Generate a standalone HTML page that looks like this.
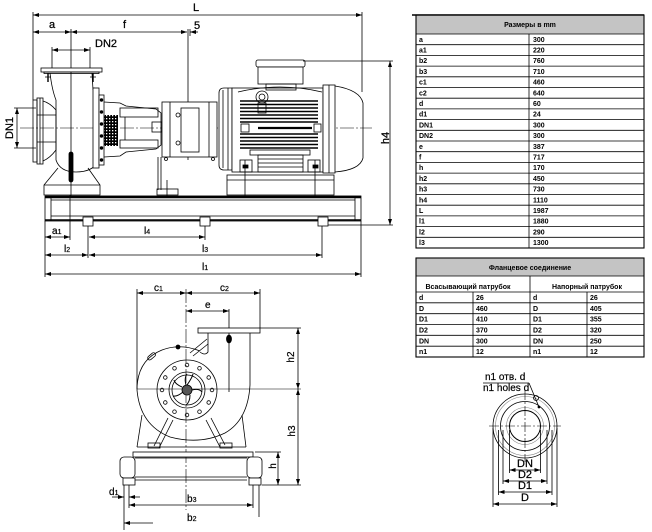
<!DOCTYPE html>
<html><head><meta charset="utf-8"><style>
html,body{margin:0;padding:0;background:#fff;}
svg{display:block;}
text{font-family:"Liberation Sans",Arial,sans-serif;fill:#000;}
.t{font-size:7px;font-weight:bold;}
.l{font-size:11px;stroke:#000;stroke-width:0.25;}
.s{font-size:10px;stroke:#000;stroke-width:0.2;}
</style></head><body>
<svg width="652" height="532" viewBox="0 0 652 532" xmlns="http://www.w3.org/2000/svg">
<defs>
<marker id="ar" viewBox="0 0 6 4" refX="6" refY="2" markerWidth="6" markerHeight="4" orient="auto-start-reverse" markerUnits="userSpaceOnUse"><path d="M0,0L6,2L0,4z" fill="#000" stroke="none"/></marker>
<pattern id="hat" width="3" height="3" patternUnits="userSpaceOnUse"><rect width="3" height="3" fill="#000"/><rect x="1" y="1" width="1.3" height="1.3" fill="#fff"/></pattern>
</defs>
<rect width="652" height="532" fill="#fff"/>

<!-- ============ TOP SIDE VIEW ============ -->
<g fill="none" stroke="#000" stroke-width="0.8">
 <line x1="33" y1="15" x2="362" y2="15" marker-start="url(#ar)" marker-end="url(#ar)"/>
 <line x1="33" y1="12" x2="33" y2="100"/>
 <line x1="362" y1="12" x2="362" y2="92"/>
 <line x1="33" y1="32" x2="71" y2="32" marker-start="url(#ar)" marker-end="url(#ar)"/>
 <line x1="71" y1="32" x2="187" y2="32" marker-start="url(#ar)" marker-end="url(#ar)"/>
 <line x1="198" y1="32" x2="190" y2="32" marker-end="url(#ar)"/>
 <line x1="71" y1="29" x2="71" y2="200"/>
 <line x1="188" y1="29" x2="188" y2="160"/>
 <line x1="190" y1="29" x2="190" y2="36"/>
 <line x1="52" y1="50" x2="90" y2="50" marker-start="url(#ar)" marker-end="url(#ar)"/>
 <line x1="52" y1="47" x2="52" y2="70"/>
 <line x1="90" y1="47" x2="90" y2="70"/>
 <line x1="17" y1="108" x2="17" y2="148" marker-start="url(#ar)" marker-end="url(#ar)"/>
 <line x1="14" y1="108" x2="36" y2="108"/>
 <line x1="14" y1="148" x2="36" y2="148"/>
 <line x1="20" y1="128" x2="372" y2="128" stroke-dasharray="14 2 2 2" stroke-width="0.6"/>

 <rect x="41" y="68" width="61" height="4" fill="#fff"/>
 <rect x="44" y="72" width="55" height="1.5"/>
 <line x1="48" y1="73" x2="48" y2="82" stroke-width="1.4"/>
 <line x1="93" y1="73" x2="93" y2="82" stroke-width="1.4"/>
 <path d="M45,77h6M90,77h6"/>
 <path d="M50,73 Q52,90 56,100"/>
 <path d="M92,73 L93,90"/>
 <rect x="33" y="100" width="4" height="62"/>
 <rect x="37" y="98" width="6" height="66"/>
 <path d="M43,101 Q50,103 56,110 L56,150 Q50,158 43,161"/>
 <path d="M37,115H56M37,142H56M40,98V164"/>
 <path d="M56,100 L56,160 Q60,172 76,172 Q92,172 98,162 L98,90 Q96,88 93,88"/>
 <rect x="69" y="152" width="4" height="30" rx="2" fill="#000"/>
 <path d="M58,168 L44,185 L44,195 L100,195 L100,185 L88,168"/>
 <line x1="44" y1="185" x2="100" y2="185"/>
 <rect x="93" y="88" width="6" height="80" fill="#fff"/>
 <rect x="99" y="95" width="5" height="70" fill="#fff"/>
 <g fill="#000"><circle cx="101.5" cy="100" r="1.3"/><circle cx="101.5" cy="112" r="1.3"/><circle cx="101.5" cy="124" r="1.3"/><circle cx="101.5" cy="136" r="1.3"/><circle cx="101.5" cy="148" r="1.3"/><circle cx="101.5" cy="160" r="1.3"/></g>
 <path d="M104,102 L120,103 L126,106 L156,109 L161,113 L161,145 L156,149 L126,152 L120,156 L104,157"/>
 <rect x="104" y="115" width="14" height="31" fill="url(#hat)" stroke="none"/>
 <rect x="120" y="108" width="38" height="9"/>
 <rect x="120" y="140" width="38" height="8"/>
 <rect x="152" y="122" width="10" height="10"/>
 <path d="M125,117 L125,140"/>
 <rect x="162" y="102" width="55" height="55" fill="#fff"/>
 <rect x="181" y="108" width="18" height="44"/>
 <path d="M170,102V157M209,102V157"/>
 <circle cx="178" cy="115" r="2"/><circle cx="178" cy="143" r="2"/>
 <circle cx="166" cy="159" r="1.5"/><circle cx="213" cy="159" r="1.5"/>
 <path d="M158,157 L158,190 M161,157 L161,190"/>
 <rect x="157" y="189" width="21" height="6"/>
 <line x1="167" y1="180" x2="167" y2="205"/>
 <path d="M219,93 Q219,88 224,88 L232,88 L232,170 L224,170 Q219,170 219,165 Z" fill="#fff"/>
 <line x1="223" y1="90" x2="223" y2="168"/>
 <line x1="228" y1="88" x2="228" y2="170"/>
 <rect x="232" y="88" width="91" height="84" fill="#fff"/>
 <path d="M238,92 Q280,82 322,92"/>
 <rect x="256" y="60" width="49" height="7" rx="2" fill="#fff"/>
 <rect x="258" y="67" width="45" height="17" fill="#fff"/>
 <rect x="266" y="84" width="30" height="6"/>
 <circle cx="262" cy="97" r="6" fill="#fff"/><circle cx="262" cy="97" r="3"/>
 <rect x="258" y="103" width="8" height="10" fill="#fff"/>
 <g stroke-width="1.6">
  <path d="M240,101H318M240,104.5H318M240,108H318M240,111.5H318M240,115H318M240,118.5H318M240,122H318"/>
  <path d="M240,134H318M240,137.5H318M240,141H318M240,144.5H318M240,148H318"/>
  <path d="M258,128H312" stroke-width="2.2"/>
 </g>
 <rect x="241" y="124" width="8" height="8" fill="#fff"/>
 <rect x="314" y="124" width="7" height="8" fill="#fff"/>
 <rect x="250" y="150" width="60" height="5" fill="#fff"/>
 <rect x="258" y="155" width="45" height="17"/>
 <path d="M258,159H303M258,163H303M258,167H303"/>
 <rect x="240" y="160" width="12" height="12"/>
 <rect x="308" y="160" width="12" height="12"/>
 <rect x="243" y="165" width="5" height="3" fill="#000"/>
 <rect x="313" y="165" width="5" height="3" fill="#000"/>
 <rect x="323" y="85" width="12" height="88" fill="#fff"/>
 <path d="M335,86 Q360,90 363,103 L363,158 Q360,170 335,172"/>
 <path d="M329,85V173"/>
 <rect x="227" y="175" width="107" height="20" fill="#fff"/>
 <line x1="227" y1="180" x2="334" y2="180"/>
 <line x1="245" y1="160" x2="245" y2="205"/>
 <line x1="315" y1="160" x2="315" y2="205"/>
 <line x1="390" y1="61" x2="390" y2="225" marker-start="url(#ar)" marker-end="url(#ar)"/>
 <line x1="303" y1="61" x2="393" y2="61"/>
 <line x1="328" y1="225" x2="393" y2="225"/>
 <rect x="45" y="196" width="316" height="25" fill="#fff"/>
 <line x1="45" y1="197" x2="361" y2="197" stroke-width="2.4"/>
 <line x1="45" y1="220" x2="361" y2="220" stroke-width="1.6"/>
 <path d="M51,200H355M51,216H355M51,196V221M355,196V221"/>
 <rect x="83" y="217" width="10" height="9" fill="#fff"/>
 <rect x="200" y="217" width="10" height="9" fill="#fff"/>
 <rect x="318" y="217" width="10" height="9" fill="#fff"/>
 <line x1="45" y1="237" x2="70" y2="237" marker-start="url(#ar)" marker-end="url(#ar)"/>
 <line x1="89" y1="237" x2="205" y2="237" marker-start="url(#ar)" marker-end="url(#ar)"/>
 <line x1="45" y1="255" x2="88" y2="255" marker-start="url(#ar)" marker-end="url(#ar)"/>
 <line x1="89" y1="255" x2="322" y2="255" marker-start="url(#ar)" marker-end="url(#ar)"/>
 <line x1="45" y1="274" x2="361" y2="274" marker-start="url(#ar)" marker-end="url(#ar)"/>
 <path d="M45,221V277M361,221V277M88,226V258M205,226V240M322,226V258M70,195V240"/>
</g>
<g>
 <text class="l" x="193" y="11">L</text>
 <text class="l" x="49" y="28">a</text>
 <text class="l" x="123" y="28">f</text>
 <text class="l" x="194" y="29">5</text>
 <text class="l" x="95" y="47">DN2</text>
 <text class="l" transform="translate(13,128) rotate(-90)" text-anchor="middle">DN1</text>
 <text class="l" transform="translate(389,138) rotate(-90)" text-anchor="middle">h4</text>
 <text class="s" x="52" y="234">a<tspan font-size="7">1</tspan></text>
 <text class="s" x="144" y="234">l<tspan font-size="7">4</tspan></text>
 <text class="s" x="64" y="252">l<tspan font-size="7">2</tspan></text>
 <text class="s" x="202" y="252">l<tspan font-size="7">3</tspan></text>
 <text class="s" x="202" y="270">l<tspan font-size="7">1</tspan></text>
</g>

<!-- ============ FRONT VIEW ============ -->
<g fill="none" stroke="#000" stroke-width="0.8">
 <line x1="186" y1="289" x2="186" y2="510" stroke-dasharray="14 2 2 2" stroke-width="0.6"/>
 <line x1="137" y1="389" x2="301" y2="389" stroke-width="0.6"/>
 <line x1="137" y1="293" x2="186" y2="293" marker-start="url(#ar)" marker-end="url(#ar)"/>
 <line x1="186" y1="293" x2="260" y2="293" marker-start="url(#ar)" marker-end="url(#ar)"/>
 <line x1="186" y1="311" x2="229" y2="311" marker-start="url(#ar)" marker-end="url(#ar)"/>
 <path d="M137,289V389M260,289V328M229,309V392"/>
 <rect x="198" y="328" width="62" height="5" fill="#fff"/>
 <path d="M208,333 L208,352 Q205,356 200,352"/>
 <path d="M190,353 L207,339 M193,356 L208,344"/>
 <path d="M250,333 L250,385 Q248,420 225,433 Q200,445 170,437 Q140,425 137,390 Q137,360 162,350 Q180,343 200,351"/>
 <ellipse cx="229" cy="339" rx="2.5" ry="4" fill="#000"/>
 <circle cx="178" cy="347" r="2" fill="#000"/>
 <rect x="150" y="352" width="4" height="9" rx="2" transform="rotate(50 152 356)"/>
 <circle cx="187" cy="390" r="30"/>
 <circle cx="187" cy="390" r="18"/>
 <circle cx="187" cy="390" r="15"/>
 <circle cx="187" cy="390" r="5" fill="#555"/>
 <g>
  <circle cx="212" cy="390" r="1.8"/><circle cx="208.7" cy="402.5" r="1.8"/><circle cx="199.5" cy="411.7" r="1.8"/><circle cx="187" cy="415" r="1.8"/><circle cx="174.5" cy="411.7" r="1.8"/><circle cx="165.3" cy="402.5" r="1.8"/><circle cx="162" cy="390" r="1.8"/><circle cx="165.3" cy="377.5" r="1.8"/><circle cx="174.5" cy="368.3" r="1.8"/><circle cx="187" cy="365" r="1.8"/><circle cx="199.5" cy="368.3" r="1.8"/><circle cx="208.7" cy="377.5" r="1.8"/>
 </g>
 <path d="M187,385 Q192,378 193,374 M192,390 Q199,388 202,392 M190,395 Q190,402 186,405 M183,392 Q177,397 173,396 M182,387 Q175,384 174,380 M186,385 Q184,378 187,374" stroke-width="1"/>
 <path d="M142,415 L137,447 M242,415 L246,447 M137,447 H246"/>
 <path d="M168,418 L154,446 M173,420 L159,448 M206,420 L220,447 M211,418 L225,445"/>
 <rect x="148" y="443" width="12" height="5"/>
 <rect x="220" y="443" width="12" height="5"/>
 <rect x="133" y="452" width="120" height="5" fill="#fff"/>
 <rect x="120" y="457" width="15" height="21" rx="4" fill="#fff"/>
 <rect x="247" y="457" width="15" height="21" rx="4" fill="#fff"/>
 <path d="M135,458H247M135,477H247M135,480H247"/>
 <rect x="123" y="478" width="12" height="7" fill="#fff"/>
 <rect x="249" y="478" width="12" height="7" fill="#fff"/>
 <line x1="298" y1="328" x2="298" y2="389" marker-start="url(#ar)" marker-end="url(#ar)"/>
 <line x1="298" y1="389" x2="298" y2="485" marker-start="url(#ar)" marker-end="url(#ar)"/>
 <line x1="278" y1="452" x2="278" y2="485" marker-start="url(#ar)" marker-end="url(#ar)"/>
 <path d="M260,328H301M255,452H281M262,485H301"/>
 <line x1="112" y1="497" x2="124" y2="497" marker-end="url(#ar)"/>
 <line x1="140" y1="497" x2="129" y2="497" marker-end="url(#ar)"/>
 <line x1="129" y1="505" x2="253" y2="505" marker-start="url(#ar)" marker-end="url(#ar)"/>
 <line x1="124" y1="523" x2="153" y2="523" marker-start="url(#ar)"/>
 <path d="M124,485V530M129,485V508M253,485V508M259,485V517"/>
</g>
<g>
 <text class="s" x="154" y="291">c<tspan font-size="7">1</tspan></text>
 <text class="s" x="220" y="291">c<tspan font-size="7">2</tspan></text>
 <text class="s" x="205" y="308">e</text>
 <text class="s" transform="translate(294,357) rotate(-90)" text-anchor="middle">h2</text>
 <text class="s" transform="translate(295,431) rotate(-90)" text-anchor="middle">h3</text>
 <text class="s" transform="translate(276,466) rotate(-90)" text-anchor="middle">h</text>
 <text class="s" x="109" y="495">d<tspan font-size="7">1</tspan></text>
 <text class="s" x="187" y="502">b<tspan font-size="7">3</tspan></text>
 <text class="s" x="187" y="521">b<tspan font-size="7">2</tspan></text>
</g>

<!-- ============ FLANGE ============ -->
<g fill="none" stroke="#000" stroke-width="0.8">
 <circle cx="525" cy="426" r="32"/>
 <circle cx="525" cy="426" r="29.5" stroke="#888" stroke-width="0.6"/>
 <circle cx="525" cy="426" r="24.5"/>
 <circle cx="525" cy="426" r="18.5" stroke="#888" stroke-width="0.6"/>
 <circle cx="525" cy="426" r="15.5" stroke-width="1"/>
 <line x1="489" y1="426" x2="561" y2="426" stroke-dasharray="10 2 2 2" stroke-width="0.6"/>
 <line x1="525" y1="390" x2="525" y2="462" stroke-dasharray="10 2 2 2" stroke-width="0.6"/>
 <circle cx="536" cy="398" r="2.5"/>
 <line x1="483" y1="383" x2="529" y2="383"/>
 <line x1="529" y1="383" x2="539" y2="407"/>
 <circle cx="539" cy="407" r="1" fill="#000"/>
 <path d="M509.5,430V473M540.5,430V473M503,430V484M547,430V484M498.5,430V495M552,430V495M493,428V507M557,428V507"/>
 <line x1="509.5" y1="470" x2="540.5" y2="470" marker-start="url(#ar)" marker-end="url(#ar)"/>
 <line x1="503" y1="481" x2="547" y2="481" marker-start="url(#ar)" marker-end="url(#ar)"/>
 <line x1="498.5" y1="492" x2="552" y2="492" marker-start="url(#ar)" marker-end="url(#ar)"/>
 <line x1="493" y1="504" x2="557" y2="504" marker-start="url(#ar)" marker-end="url(#ar)"/>
</g>
<g font-size="10">
 <text x="485" y="380" stroke="#000" stroke-width="0.2">n1 отв. d</text>
 <text x="483" y="391" stroke="#000" stroke-width="0.2">n1 holes d</text>
 <text class="l" x="525" y="467" text-anchor="middle">DN</text>
 <text class="l" x="525" y="478" text-anchor="middle">D2</text>
 <text class="l" x="525" y="489" text-anchor="middle">D1</text>
 <text class="l" x="525" y="501" text-anchor="middle">D</text>
</g>

<!-- ============ TABLE 1 ============ -->
<rect x="416" y="16" width="228" height="18" fill="#c4c4c4"/>
<g fill="none" stroke="#000" stroke-width="0.8">
 <rect x="416" y="15" width="228" height="233" stroke-width="1.1"/>
 <line x1="412" y1="15" x2="644" y2="15" stroke-width="1.6"/>
 <path d="M416,34H644M416,44.7H644M416,55.4H644M416,66.1H644M416,76.8H644M416,87.5H644M416,98.2H644M416,108.9H644M416,119.6H644M416,130.3H644M416,141H644M416,151.7H644M416,162.4H644M416,173.1H644M416,183.8H644M416,194.5H644M416,205.2H644M416,215.9H644M416,226.6H644M416,237.3H644"/>
 <line x1="529" y1="34" x2="529" y2="248"/>
</g>
<g class="t">
 <text class="t" x="530" y="27" text-anchor="middle">Размеры в mm</text>
 <text class="t" x="419" y="41.8">a</text><text class="t" x="533" y="41.8">300</text>
 <text class="t" x="419" y="52.5">a1</text><text class="t" x="533" y="52.5">220</text>
 <text class="t" x="419" y="63.2">b2</text><text class="t" x="533" y="63.2">760</text>
 <text class="t" x="419" y="73.9">b3</text><text class="t" x="533" y="73.9">710</text>
 <text class="t" x="419" y="84.6">c1</text><text class="t" x="533" y="84.6">460</text>
 <text class="t" x="419" y="95.3">c2</text><text class="t" x="533" y="95.3">640</text>
 <text class="t" x="419" y="106">d</text><text class="t" x="533" y="106">60</text>
 <text class="t" x="419" y="116.7">d1</text><text class="t" x="533" y="116.7">24</text>
 <text class="t" x="419" y="127.4">DN1</text><text class="t" x="533" y="127.4">300</text>
 <text class="t" x="419" y="138.1">DN2</text><text class="t" x="533" y="138.1">300</text>
 <text class="t" x="419" y="148.8">e</text><text class="t" x="533" y="148.8">387</text>
 <text class="t" x="419" y="159.5">f</text><text class="t" x="533" y="159.5">717</text>
 <text class="t" x="419" y="170.2">h</text><text class="t" x="533" y="170.2">170</text>
 <text class="t" x="419" y="180.9">h2</text><text class="t" x="533" y="180.9">450</text>
 <text class="t" x="419" y="191.6">h3</text><text class="t" x="533" y="191.6">730</text>
 <text class="t" x="419" y="202.3">h4</text><text class="t" x="533" y="202.3">1110</text>
 <text class="t" x="419" y="213">L</text><text class="t" x="533" y="213">1987</text>
 <text class="t" x="419" y="223.7">l1</text><text class="t" x="533" y="223.7">1880</text>
 <text class="t" x="419" y="234.4">l2</text><text class="t" x="533" y="234.4">290</text>
 <text class="t" x="419" y="245.1">l3</text><text class="t" x="533" y="245.1">1300</text>
</g>

<!-- ============ TABLE 2 ============ -->
<rect x="416" y="258" width="228" height="18" fill="#c4c4c4"/>
<g fill="none" stroke="#000" stroke-width="0.8">
 <rect x="416" y="258" width="228" height="99" stroke-width="1.1"/>
 <path d="M416,276H644M416,292H644M416,302.8H644M416,313.7H644M416,324.5H644M416,335.3H644M416,346.2H644"/>
 <path d="M530,276V357M473,292V357M587,292V357"/>
</g>
<g>
 <text class="t" x="530" y="270" text-anchor="middle">Фланцевое соединение</text>
 <text class="t" x="468" y="289" text-anchor="middle">Всасывающий патрубок</text>
 <text class="t" x="587" y="289" text-anchor="middle">Напорный патрубок</text>
 <text class="t" x="419" y="300">d</text><text class="t" x="476" y="300">26</text><text class="t" x="533" y="300">d</text><text class="t" x="590" y="300">26</text>
 <text class="t" x="419" y="310.9">D</text><text class="t" x="476" y="310.9">460</text><text class="t" x="533" y="310.9">D</text><text class="t" x="590" y="310.9">405</text>
 <text class="t" x="419" y="321.7">D1</text><text class="t" x="476" y="321.7">410</text><text class="t" x="533" y="321.7">D1</text><text class="t" x="590" y="321.7">355</text>
 <text class="t" x="419" y="332.5">D2</text><text class="t" x="476" y="332.5">370</text><text class="t" x="533" y="332.5">D2</text><text class="t" x="590" y="332.5">320</text>
 <text class="t" x="419" y="343.4">DN</text><text class="t" x="476" y="343.4">300</text><text class="t" x="533" y="343.4">DN</text><text class="t" x="590" y="343.4">250</text>
 <text class="t" x="419" y="354.2">n1</text><text class="t" x="476" y="354.2">12</text><text class="t" x="533" y="354.2">n1</text><text class="t" x="590" y="354.2">12</text>
</g>
</svg>
</body></html>
